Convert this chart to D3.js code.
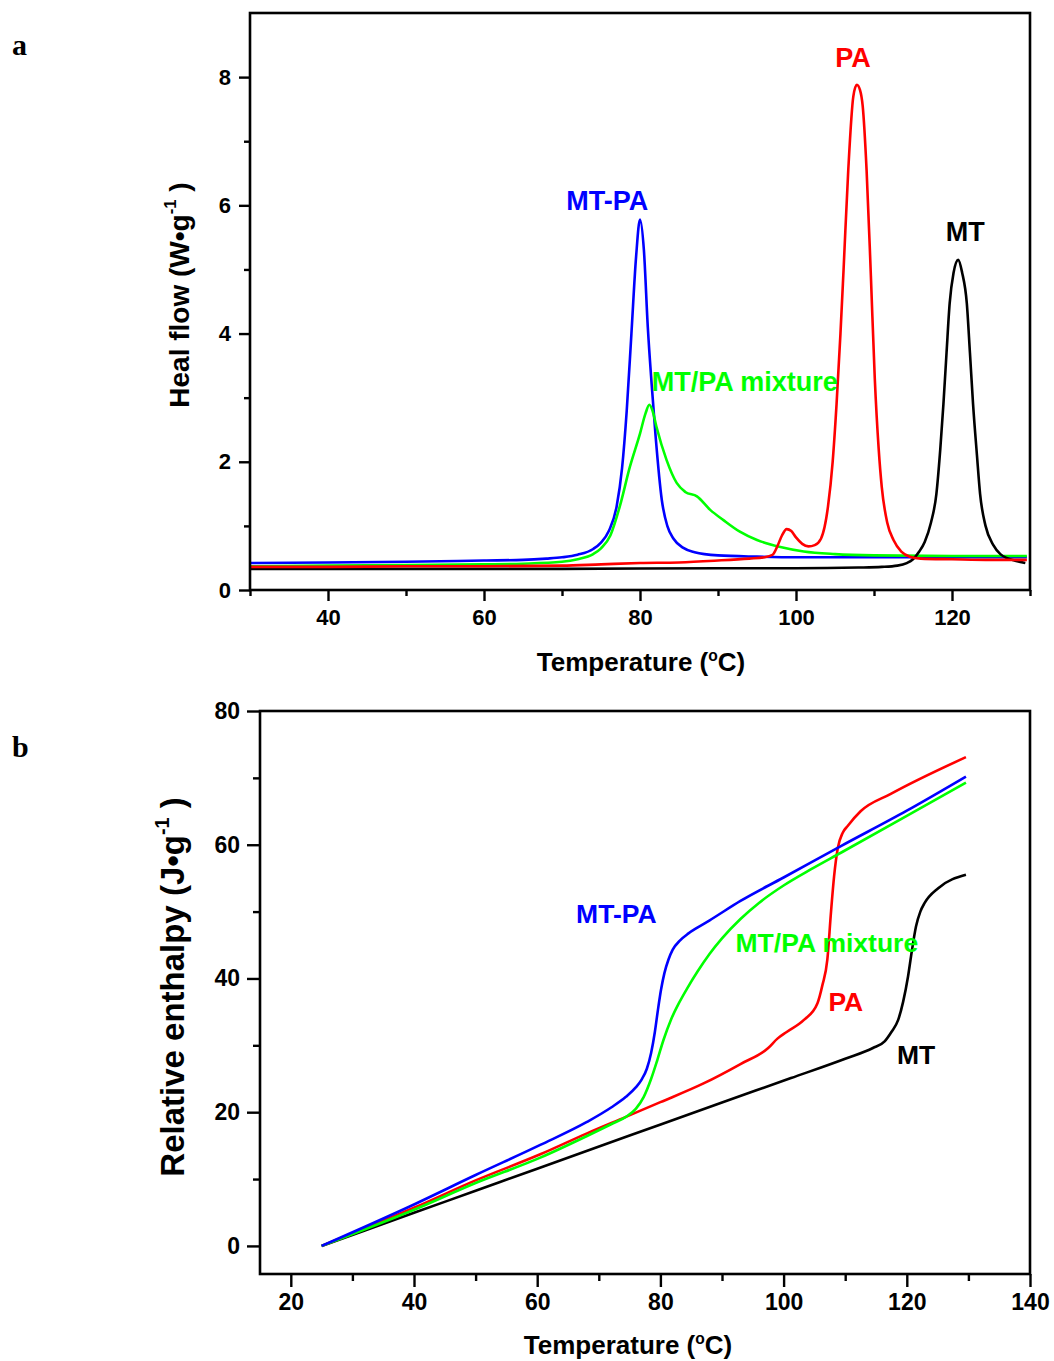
<!DOCTYPE html>
<html>
<head>
<meta charset="utf-8">
<script src="https://cdn.jsdelivr.net/npm/d3@7"></script>
<style>
  html, body { margin: 0; padding: 0; background: #fff; }
  svg { display: block; }
  text { font-family: "Liberation Sans", Arial, sans-serif; font-weight: bold; }
</style>
</head>
<body>
<svg id="chart" width="1054" height="1361"></svg>
<script>
// ---------- Panel a: DSC heat flow curves ----------
const dscMTPA_T = [30, 40, 50, 60, 65, 68, 70, 72, 74, 75, 76, 77, 77.7, 78.3, 78.9, 79.5, 80, 80.5, 81, 81.5, 82, 82.8, 83.5, 84.3, 85.5, 87, 90, 95, 100, 110, 120, 129.6];
const dscMTPA_V = [0.42, 0.43, 0.44, 0.46, 0.47, 0.49, 0.51, 0.55, 0.64, 0.74, 0.92, 1.3, 1.9, 2.8, 4.0, 5.2, 5.78, 5.3, 4.1, 3.2, 2.4, 1.4, 1.0, 0.8, 0.66, 0.59, 0.54, 0.52, 0.51, 0.51, 0.51, 0.51];

const dscMix_T = [30, 40, 50, 60, 65, 70, 72, 74, 75, 76.2, 77.4, 78.7, 80.0, 80.7, 81.2, 81.6, 82.1, 83.4, 84.7, 85.8, 87.3, 89.0, 90.7, 92.8, 95, 98, 101, 105, 110, 120, 129.6];
const dscMix_V = [0.37, 0.38, 0.39, 0.40, 0.41, 0.44, 0.48, 0.56, 0.65, 0.85, 1.30, 1.92, 2.44, 2.75, 2.89, 2.8, 2.55, 2.03, 1.67, 1.53, 1.46, 1.25, 1.09, 0.91, 0.78, 0.67, 0.6, 0.56, 0.54, 0.53, 0.53];

const dscPA_T = [30, 40, 50, 60, 70, 75, 80, 85, 90, 94, 96, 97, 97.6, 98.2, 98.8, 99.4, 100, 100.8, 101.6, 102.4, 103.2, 104.1, 104.7, 105.2, 105.7, 106.1, 106.7, 107.35, 107.8, 108.2, 108.55, 109.05, 109.6, 110.1, 110.6, 111.0, 111.7, 112.5, 113.5, 114.6, 116, 120, 125, 129.6];
const dscPA_V = [0.36, 0.36, 0.37, 0.37, 0.38, 0.40, 0.42, 0.43, 0.46, 0.49, 0.51, 0.55, 0.68, 0.85, 0.95, 0.92, 0.82, 0.72, 0.68, 0.7, 0.8, 1.3, 2.0, 2.9, 4.0, 5.0, 6.55, 7.7, 7.88, 7.8, 7.55, 6.55, 4.9, 3.3, 2.2, 1.6, 1.05, 0.78, 0.6, 0.52, 0.49, 0.48, 0.47, 0.47];

const dscMT_T = [30, 50, 70, 90, 100, 108, 111, 113, 114.2, 115, 115.8, 116.5, 117.3, 118, 118.5, 118.9, 119.3, 119.7, 120.2, 120.8, 121.3, 121.9, 122.3, 122.7, 123.2, 123.6, 124.3, 125.3, 126.2, 127, 128, 129.4];
const dscMT_V = [0.33, 0.33, 0.33, 0.34, 0.34, 0.35, 0.36, 0.38, 0.42, 0.48, 0.6, 0.75, 1.05, 1.5, 2.2, 2.9, 3.7, 4.47, 4.95, 5.15, 4.95, 4.47, 3.7, 2.9, 2.1, 1.5, 1.0, 0.7, 0.56, 0.5, 0.46, 0.42];

// ---------- Panel b: relative enthalpy curves ----------
const hMTPA_T = [25, 40, 50, 60.5, 68, 72, 74.4, 76, 76.9, 77.8, 78.5, 79.1, 79.6, 80.1, 80.65, 81.3, 82.0, 83.2, 84.5, 86, 88, 93, 100, 109.3, 120, 129.6];
const hMTPA_V = [0, 6.2, 10.6, 15.1, 18.5, 20.7, 22.3, 23.7, 24.8, 26.5, 28.9, 32, 35.3, 38.3, 40.8, 42.8, 44.3, 45.7, 46.7, 47.6, 48.7, 51.6, 55.1, 59.8, 65.1, 70.2];

const hMix_T = [25, 40, 50, 60.5, 68, 72, 74.4, 76, 77.3, 78.5, 79.5, 80.5, 81.7, 83, 84.4, 86, 88, 90, 93, 96, 100, 104.4, 109.3, 120, 129.6];
const hMix_V = [0, 5.4, 9.4, 13.2, 16.4, 18.2, 19.3, 20.5, 22.3, 25, 27.8, 30.8, 33.8, 36.3, 38.6, 41, 43.7, 46.0, 48.9, 51.3, 53.9, 56.3, 58.8, 64.3, 69.3];

const hPA_T = [25, 40, 50, 60.5, 68, 74.4, 80, 87, 93, 97.5, 99, 100.5, 103.3, 105.5, 106.3, 107.1, 107.7, 108.2, 108.8, 109.6, 110.4, 112.5, 117.4, 129.6];
const hPA_V = [0, 5.7, 9.8, 13.7, 16.8, 19.3, 21.5, 24.3, 27.2, 29.6, 31, 32, 33.8, 36.3, 39, 42.8, 50, 55.3, 59.5, 61.8, 62.8, 65.0, 67.6, 73.1];

const hMT_T = [25, 40, 50, 60, 75, 90, 101.2, 110, 114.5, 116.4, 117.5, 118.6, 119.4, 120.2, 120.8, 121.5, 122.2, 122.9, 125.1, 129.6];
const hMT_V = [0, 4.95, 8.25, 11.55, 16.5, 21.45, 25.1, 28.0, 29.6, 30.6, 32, 33.8, 36.5, 40.3, 44, 47.8, 50, 51.3, 53.5, 55.5];

// series names and colours
const seriesNames = ["MT-PA", "MT/PA mixture", "PA", "MT"];
const seriesColors = ["#0000ff", "#00ff00", "#ff0000", "#000000"];

// axis ticks
const aXTicks = [40, 60, 80, 100, 120];
const aXMinor = [30, 50, 70, 90, 110, 130];
const aYTicks = [0, 2, 4, 6, 8];
const aYMinor = [1, 3, 5, 7];
const bXTicks = [20, 40, 60, 80, 100, 120, 140];
const bXMinor = [30, 50, 70, 90, 110, 130];
const bYTicks = [0, 20, 40, 60, 80];
const bYMinor = [10, 30, 50, 70];

const svg = d3.select("#chart");

function drawPanel(cfg) {
  const g = svg.append("g");
  const x = d3.scaleLinear().domain(cfg.xDomain).range([cfg.left, cfg.right]);
  const y = d3.scaleLinear().domain(cfg.yDomain).range([cfg.bottom, cfg.top]);

  // curves
  const line = d3.line().x(d => x(d[0])).y(d => y(d[1])).curve(d3.curveMonotoneX);
  cfg.series.forEach(s => {
    const pts = s.T.map((t, k) => [t, s.V[k]]);
    g.append("path").datum(pts)
      .attr("d", line)
      .attr("fill", "none")
      .attr("stroke", seriesColors[s.idx])
      .attr("stroke-width", 2.6)
      .attr("stroke-linejoin", "round");
  });

  // frame
  g.append("rect")
    .attr("x", cfg.left).attr("y", cfg.top)
    .attr("width", cfg.right - cfg.left).attr("height", cfg.bottom - cfg.top)
    .attr("fill", "none").attr("stroke", "#000").attr("stroke-width", 2.6);

  // axes
  const xAx = g.append("g").attr("transform", `translate(0,${cfg.bottom})`)
    .call(d3.axisBottom(x).tickValues(cfg.xTicks).tickSize(cfg.majorLen).tickPadding(cfg.xPad).tickFormat(d3.format("d")));
  const xMin = g.append("g").attr("transform", `translate(0,${cfg.bottom})`)
    .call(d3.axisBottom(x).tickValues(cfg.xMinor).tickSize(cfg.minorLen).tickFormat(""));
  const yAx = g.append("g").attr("transform", `translate(${cfg.left},0)`)
    .call(d3.axisLeft(y).tickValues(cfg.yTicks).tickSize(cfg.majorLen).tickPadding(cfg.yPad).tickFormat(d3.format("d")));
  const yMin = g.append("g").attr("transform", `translate(${cfg.left},0)`)
    .call(d3.axisLeft(y).tickValues(cfg.yMinor).tickSize(cfg.minorLen).tickFormat(""));
  [xAx, xMin, yAx, yMin].forEach(a => {
    a.select(".domain").remove();
    a.selectAll(".tick line").attr("stroke", "#000").attr("stroke-width", 2.4);
    a.selectAll(".tick text")
      .attr("fill", "#000")
      .style("font-family", '"Liberation Sans", Arial, sans-serif')
      .style("font-weight", "bold")
      .style("font-size", cfg.tickFont + "px");
  });

  // x title
  const xt = g.append("text")
    .attr("x", cfg.xTitle[0]).attr("y", cfg.xTitle[1])
    .attr("text-anchor", "middle")
    .style("font-size", cfg.xTitleFont + "px");
  xt.append("tspan").text("Temperature (");
  xt.append("tspan").text("o").style("font-size", (cfg.xTitleFont * 0.6) + "px").attr("dy", -cfg.xTitleFont * 0.4);
  xt.append("tspan").text("C)").attr("dy", cfg.xTitleFont * 0.4);

  // y title
  const yt = g.append("text")
    .attr("transform", `translate(${cfg.yTitle[0]},${cfg.yTitle[1]}) rotate(-90)`)
    .attr("text-anchor", "middle")
    .style("font-size", cfg.yTitleFont + "px");
  yt.append("tspan").text(cfg.yTitleText);
  yt.append("tspan").text("-1").style("font-size", (cfg.yTitleFont * 0.6) + "px").attr("dy", -cfg.yTitleFont * 0.45);
  yt.append("tspan").text(" )").attr("dy", cfg.yTitleFont * 0.45);

  // curve labels
  cfg.labels.forEach(l => {
    g.append("text")
      .attr("x", x(l.t)).attr("y", y(l.v))
      .attr("text-anchor", l.anchor)
      .attr("fill", seriesColors[l.idx])
      .style("font-size", cfg.labelFont + "px")
      .text(seriesNames[l.idx]);
  });

  // panel letter
  svg.append("text")
    .attr("x", cfg.letter[0]).attr("y", cfg.letter[1])
    .style("font-family", '"Liberation Serif", "Times New Roman", serif')
    .style("font-weight", "bold")
    .style("font-size", "30px")
    .text(cfg.letterText);
}

drawPanel({
  left: 250, right: 1030, top: 13, bottom: 590,
  xDomain: [30, 130], yDomain: [0, 9],
  xTicks: aXTicks, xMinor: aXMinor, yTicks: aYTicks, yMinor: aYMinor,
  majorLen: 11, minorLen: 6, xPad: 8, yPad: 8, tickFont: 22,
  series: [
    { T: dscMTPA_T, V: dscMTPA_V, idx: 0 },
    { T: dscMix_T, V: dscMix_V, idx: 1 },
    { T: dscMT_T, V: dscMT_V, idx: 3 },
    { T: dscPA_T, V: dscPA_V, idx: 2 }
  ],
  xTitle: [641, 671], xTitleFont: 26,
  yTitle: [189, 295], yTitleFont: 28, yTitleText: "Heal flow (W•g",
  labelFont: 27,
  labels: [
    { idx: 2, t: 107.3, v: 8.16, anchor: "middle" },
    { idx: 0, t: 75.8, v: 5.93, anchor: "middle" },
    { idx: 3, t: 121.7, v: 5.44, anchor: "middle" },
    { idx: 1, t: 81.5, v: 3.10, anchor: "start" }
  ],
  letter: [12, 55], letterText: "a"
});

drawPanel({
  left: 260, right: 1030, top: 711, bottom: 1274,
  xDomain: [15, 140], yDomain: [-4.2, 80],
  xTicks: bXTicks, xMinor: bXMinor, yTicks: bYTicks, yMinor: bYMinor,
  majorLen: 13, minorLen: 7, xPad: 7, yPad: 7, tickFont: 23,
  series: [
    { T: hMT_T, V: hMT_V, idx: 3 },
    { T: hPA_T, V: hPA_V, idx: 2 },
    { T: hMix_T, V: hMix_V, idx: 1 },
    { T: hMTPA_T, V: hMTPA_V, idx: 0 }
  ],
  xTitle: [628, 1354], xTitleFont: 26,
  yTitle: [184, 987], yTitleFont: 33, yTitleText: "Relative enthalpy (J•g",
  labelFont: 26.5,
  labels: [
    { idx: 0, t: 72.85, v: 48.3, anchor: "middle" },
    { idx: 1, t: 92.2, v: 43.9, anchor: "start" },
    { idx: 2, t: 110.1, v: 35.2, anchor: "middle" },
    { idx: 3, t: 121.5, v: 27.2, anchor: "middle" }
  ],
  letter: [12, 757], letterText: "b"
});
</script>
</body>
</html>
